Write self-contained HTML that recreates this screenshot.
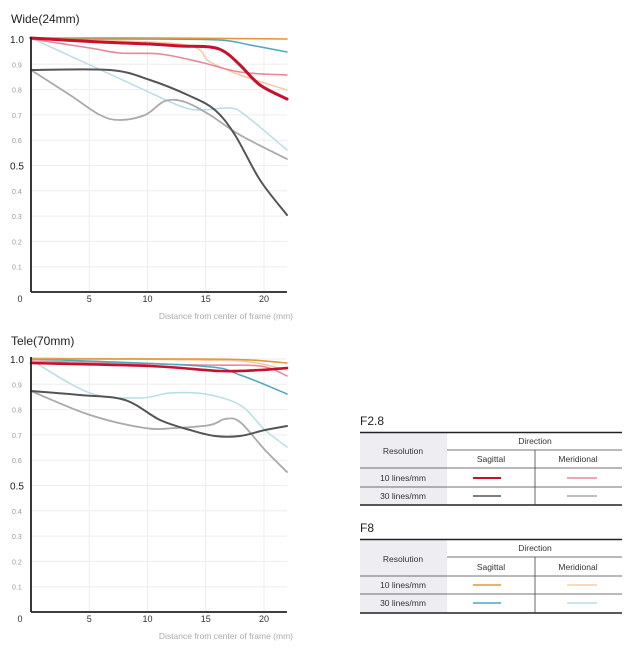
<!DOCTYPE html>
<html><head><meta charset="utf-8"><style>
body{margin:0;background:#fff;width:636px;height:652px;overflow:hidden;font-family:"Liberation Sans",sans-serif}
svg{position:absolute;left:0;top:0}
</style></head><body>
<svg id="s" width="636" height="652" viewBox="0 0 636 652" font-family="Liberation Sans, sans-serif">
<g id="g"></g>
<text x="11" y="23" font-size="12" fill="#222">Wide(24mm)</text>
<text x="11" y="345" font-size="12" fill="#222">Tele(70mm)</text>

<!-- Legend F2.8 -->
<text x="360" y="425" font-size="12" fill="#222">F2.8</text>
<rect x="360" y="433" width="87" height="72" fill="#eeeef2"/>
<line x1="360" y1="432.5" x2="622" y2="432.5" stroke="#222" stroke-width="1.5"/>
<line x1="447" y1="450" x2="622" y2="450" stroke="#444" stroke-width="0.8"/>
<line x1="360" y1="468" x2="622" y2="468" stroke="#444" stroke-width="0.8"/>
<line x1="360" y1="487" x2="622" y2="487" stroke="#444" stroke-width="0.8"/>
<line x1="360" y1="505" x2="622" y2="505" stroke="#222" stroke-width="1.5"/>
<line x1="535" y1="450" x2="535" y2="505" stroke="#444" stroke-width="0.8"/>
<g font-size="8.5" fill="#333" text-anchor="middle">
<text x="535" y="444">Direction</text>
<text x="403" y="454">Resolution</text>
<text x="491" y="462">Sagittal</text>
<text x="578" y="462">Meridional</text>
<text x="403" y="481">10 lines/mm</text>
<text x="403" y="499">30 lines/mm</text>
</g>
<line x1="473" y1="478" x2="501" y2="478" stroke="#c8102e" stroke-width="2"/>
<line x1="567" y1="478" x2="597" y2="478" stroke="#e8899a" stroke-width="1.5"/>
<line x1="473" y1="496" x2="501" y2="496" stroke="#555" stroke-width="1.5"/>
<line x1="567" y1="496" x2="597" y2="496" stroke="#aaa" stroke-width="1.5"/>

<!-- Legend F8 -->
<text x="360" y="532" font-size="12" fill="#222">F8</text>
<rect x="360" y="540" width="87" height="73" fill="#eeeef2"/>
<line x1="360" y1="539.5" x2="622" y2="539.5" stroke="#222" stroke-width="1.5"/>
<line x1="447" y1="557" x2="622" y2="557" stroke="#444" stroke-width="0.8"/>
<line x1="360" y1="576" x2="622" y2="576" stroke="#444" stroke-width="0.8"/>
<line x1="360" y1="594" x2="622" y2="594" stroke="#444" stroke-width="0.8"/>
<line x1="360" y1="613" x2="622" y2="613" stroke="#222" stroke-width="1.5"/>
<line x1="535" y1="557" x2="535" y2="613" stroke="#444" stroke-width="0.8"/>
<g font-size="8.5" fill="#333" text-anchor="middle">
<text x="535" y="551">Direction</text>
<text x="403" y="562">Resolution</text>
<text x="491" y="570">Sagittal</text>
<text x="578" y="570">Meridional</text>
<text x="403" y="588">10 lines/mm</text>
<text x="403" y="606">30 lines/mm</text>
</g>
<line x1="473" y1="585" x2="501" y2="585" stroke="#e0963a" stroke-width="1.5"/>
<line x1="567" y1="585" x2="597" y2="585" stroke="#f5cfa0" stroke-width="1.5"/>
<line x1="473" y1="603" x2="501" y2="603" stroke="#4aa8c0" stroke-width="1.5"/>
<line x1="567" y1="603" x2="597" y2="603" stroke="#b8dde6" stroke-width="1.5"/>
</svg>
<script>
var NS="http://www.w3.org/2000/svg",g=document.getElementById('g');
function el(t,a,txt){var e=document.createElementNS(NS,t);for(var k in a)e.setAttribute(k,a[k]);if(txt!=null)e.textContent=txt;g.appendChild(e);return e;}
function smooth(p){var d="M"+p[0][0]+","+p[0][1];for(var i=0;i<p.length-1;i++){var p0=p[i-1]||p[i],p1=p[i],p2=p[i+1],p3=p[i+2]||p2;
d+=" C"+(p1[0]+(p2[0]-p0[0])/6)+","+(p1[1]+(p2[1]-p0[1])/6)+" "+(p2[0]-(p3[0]-p1[0])/6)+","+(p2[1]-(p3[1]-p1[1])/6)+" "+p2[0]+","+p2[1];}return d;}
function chart(base,series){
 var x0=31,x1=287,y0=base,top=base-253;
 for(var i=1;i<=10;i++){var y=base-i*25.3;el('line',{x1:x0,y1:y,x2:x1,y2:y,stroke:'#eee','stroke-width':1});}
 for(var m=5;m<=20;m+=5){var x=x0+m*11.65;el('line',{x1:x,y1:top,x2:x,y2:y0,stroke:'#eee','stroke-width':1});
  el('text',{x:x,y:y0+10,'font-size':9,fill:'#333','text-anchor':'middle'},String(m));}
 el('text',{x:20,y:y0+10,'font-size':9,fill:'#333','text-anchor':'middle'},'0');
 for(var i=1;i<=10;i++){var big=(i==5||i==10);el('text',{x:big?10:12,y:base-i*25.3+(big?4:3),'font-size':big?10:7,fill:big?'#222':'#999'},(i/10).toFixed(1));}
 el('text',{x:293,y:y0+27,'font-size':8.5,fill:'#aaa','text-anchor':'end'},'Distance from center of frame (mm)');
 series.forEach(function(s){el('path',{d:smooth(s[2]),fill:'none',stroke:s[0],'stroke-width':s[1],'stroke-linecap':'round'});});
 el('line',{x1:x0,y1:top-2,x2:x0,y2:y0,stroke:'#222','stroke-width':1.8});
 el('line',{x1:x0,y1:y0,x2:x1,y2:y0,stroke:'#222','stroke-width':1.8});
}
chart(292,[
 ['#b8dde6',1.5,[[31,38],[90,65],[140,88],[180,106],[200,110],[230,108],[245,115],[287,150]]],
 ['#aaaaaa',1.8,[[31,70],[70,95],[100,115],[120,120],[145,115],[165,101],[185,102],[210,115],[240,135],[287,159]]],
 ['#555555',2,[[31,70],[110,70],[150,80],[190,96],[215,110],[235,135],[260,180],[287,215]]],
 ['#f5c8a0',1.5,[[31,39],[180,44],[210,62],[240,75],[287,90]]],
 ['#e8899a',1.6,[[31,39],[90,48],[120,53],[160,54],[200,62],[240,72],[287,75]]],
 ['#4aa8c0',1.5,[[31,39],[150,39],[220,40],[250,45],[287,52]]],
 ['#e0963a',1.6,[[31,38],[150,38],[287,39]]],
 ['#c8102e',3,[[31,38],[100,42],[150,44],[180,46],[210,47],[225,52],[240,65],[260,85],[287,99]]]
]);
chart(612,[
 ['#b8dde6',1.5,[[31,360],[90,393],[140,398],[170,393],[205,394],[240,405],[265,430],[287,447]]],
 ['#aaaaaa',1.8,[[31,391],[90,415],[145,428],[175,428],[210,425],[225,419],[240,422],[265,450],[287,472]]],
 ['#555555',2,[[31,391],[80,395],[125,400],[160,420],[190,430],[215,436],[240,436],[265,430],[287,426]]],
 ['#f5c8a0',1.5,[[31,358],[200,360],[250,362],[287,370]]],
 ['#e8899a',1.6,[[31,361],[200,365],[260,366],[287,376]]],
 ['#4aa8c0',1.5,[[31,359],[200,366],[240,375],[287,394]]],
 ['#e0963a',1.6,[[31,359],[200,359],[250,360],[287,363]]],
 ['#c8102e',2.6,[[31,363],[150,366],[220,371],[260,370],[287,368]]]
]);
</script>
</body></html>
